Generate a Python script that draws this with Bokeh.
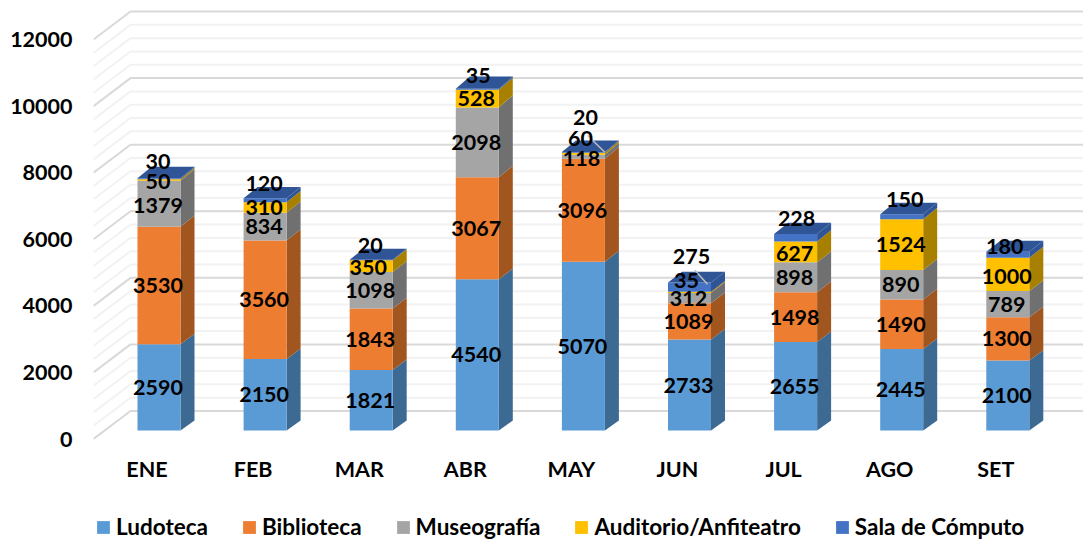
from bokeh.embed import file_html
from bokeh.resources import INLINE
from bokeh.core.properties import value
from bokeh.models import ColumnDataSource, FixedTicker, Legend, LegendItem, Range1d
from bokeh.plotting import figure

months = ["ENE", "FEB", "MAR", "ABR", "MAY", "JUN", "JUL", "AGO", "SET"]
ludoteca = [2590, 2150, 1821, 4540, 5070, 2733, 2655, 2445, 2100]
biblioteca = [3530, 3560, 1843, 3067, 3096, 1089, 1498, 1490, 1300]
museografia = [1379, 834, 1098, 2098, 118, 312, 898, 890, 789]
auditorio = [50, 310, 350, 528, 60, 35, 627, 1524, 1000]
sala = [30, 120, 20, 35, 20, 275, 228, 150, 180]
series_names = ["Ludoteca", "Biblioteca", "Museografía", "Auditorio/Anfiteatro", "Sala de Cómputo"]
y_ticks = [0, 2000, 4000, 6000, 8000, 10000, 12000]
grid_ticks = list(range(0, 12001, 400))

series = [ludoteca, biblioteca, museografia, auditorio, sala]
front = ["#5B9BD5", "#ED7D31", "#A5A5A5", "#FFC000", "#4472C4"]
side = ["#3D6A92", "#A1561F", "#707070", "#A88000", "#2F5597"]
top_col = "#2F5597"

# pixel-to-data geometry
PX_X = 106.1
PX_Y = 0.03329
FONT = "Lato"
FS = "21.5px"
X0_PAGE = 146.5
FRAME_L, FRAME_R, FRAME_T, FRAME_B = 93, 1083, 8, 540
ZERO_PAGE = 438.5
x_range = Range1d((FRAME_L - X0_PAGE) / PX_X, (FRAME_R - X0_PAGE) / PX_X)
y_range = Range1d((ZERO_PAGE - FRAME_B) / PX_Y, (ZERO_PAGE - FRAME_T) / PX_Y)

BAR_DX = 12 / PX_X          # bars sit right of the category tick
BAR_W = 43 / PX_X
BAR_BASE = 8.5 / PX_Y       # bars stand on the floor, above the front edge
DEPTH_X = 14 / PX_X
WALL_X = x_range.start + 37 / PX_X
WALL_DY = 28 / PX_Y


def depth_y(v):
    return (10 + 2 * v / 10000) / PX_Y


p = figure(width=1083, height=540, frame_width=FRAME_R - FRAME_L, frame_height=FRAME_B - FRAME_T,
           x_range=x_range, y_range=y_range, output_backend="svg", toolbar_location=None,
           min_border_left=93, min_border_top=8, min_border_right=0, min_border_bottom=0,
           outline_line_color=None, background_fill_color="white", border_fill_color="white")
p.grid.visible = False

# walls
for t in grid_ticks:
    major = t in y_ticks
    col = "#D9D9D9" if major else "#F2F2F2"
    p.line([x_range.start, WALL_X, x_range.end], [t, t + WALL_DY, t + WALL_DY], line_color=col, line_width=2)

# bars
renderers = []
xs = [i + BAR_DX for i in range(len(months))]
bottoms = [0.0] * len(months)
stack_tops = []
for k, vals in enumerate(series):
    tops = [b + v for b, v in zip(bottoms, vals)]
    src = ColumnDataSource(dict(
        x=xs,
        bottom=[b + BAR_BASE for b in bottoms],
        top=[t + BAR_BASE for t in tops]))
    side_x, side_y = [], []
    for x, b, t in zip(xs, bottoms, tops):
        r = x + BAR_W / 2
        side_x.append([r, r + DEPTH_X, r + DEPTH_X, r])
        side_y.append([b + BAR_BASE, b + BAR_BASE + depth_y(b), t + BAR_BASE + depth_y(t), t + BAR_BASE])
    p.patches(side_x, side_y, fill_color=side[k], line_color=None)
    r = p.vbar(x="x", bottom="bottom", top="top", width=BAR_W, fill_color=front[k], line_color=None, source=src)
    renderers.append(r)
    stack_tops.append(tops)
    bottoms = tops

# lids
lid_x, lid_y = [], []
for x, t in zip(xs, bottoms):
    l, r = x - BAR_W / 2, x + BAR_W / 2
    lid_x.append([l, r, r + DEPTH_X, l + DEPTH_X])
    y0 = t + BAR_BASE
    y1 = y0 + depth_y(t)
    lid_y.append([y0, y0, y1, y1])
p.patches(lid_x, lid_y, fill_color=top_col, line_color=None)

# label nudges (month index, series index) -> (dx px, dy px, downward positive)
nudges = {
    (0, 4): (0, -17), (0, 3): (0, 1.5), (0, 2): (0, 2),
    (1, 4): (0, -17),
    (2, 4): (0, -14.5), (2, 3): (-2, 1),
    (3, 4): (2, -14),
    (4, 4): (3, -35), (4, 3): (-2, -15), (4, 2): (-1, 2),
    (5, 4): (3, -31), (5, 3): (-2, -12),
    (6, 4): (2, -19), (6, 3): (0, 2),
    (7, 4): (4, -17),
    (8, 4): (-2, -8), (8, 3): (0, 2),
}
lx, ly, lt, ldx, ldy = [], [], [], [], []
for k, vals in enumerate(series):
    for i, v in enumerate(vals):
        dx, dy = nudges.get((i, k), (0, 0))
        lx.append(xs[i])
        ly.append(stack_tops[k][i] - v / 2 + BAR_BASE)
        lt.append(str(v))
        ldx.append(dx - 1)
        ldy.append(dy)

# leader lines of the crowded labels
for i, (x_a, y_a, x_b, y_b) in {4: (0.04, 500, 0.2, 0), 5: (0.05, 370, 0.17, -50)}.items():
    base = stack_tops[4][i] + BAR_BASE
    p.line([xs[i] + x_a, xs[i] + x_b], [base + y_a, base + y_b], line_color="#BFBFBF", line_width=1.5)

p.text(lx, ly, text=lt, x_offset=ldx, y_offset=ldy, text_font=value(FONT), text_font_style="bold",
       text_font_size=value(FS), text_align="center", text_baseline="middle", text_color="#000000")

# axes
ax = p.yaxis[0]
ax.ticker = FixedTicker(ticks=y_ticks)
ax.axis_line_color = None
ax.major_tick_line_color = None
ax.major_tick_out = 0
ax.major_tick_in = 0
ax.minor_tick_line_color = None
ax.major_label_standoff = 21
ax.major_label_text_font = FONT
ax.major_label_text_font_style = "bold"
ax.major_label_text_font_size = FS
ax.major_label_text_color = "#000000"

bx = p.xaxis[0]
bx.ticker = FixedTicker(ticks=list(range(len(months))))
bx.major_label_overrides = {i: m for i, m in enumerate(months)}
bx.axis_line_color = None
bx.major_tick_line_color = None
bx.major_tick_out = 0
bx.major_tick_in = 0
bx.minor_tick_line_color = None
bx.major_label_standoff = -85
bx.major_label_text_font = FONT
bx.major_label_text_font_style = "bold"
bx.major_label_text_font_size = FS
bx.major_label_text_color = "#000000"

legend = Legend(items=[LegendItem(label=n, renderers=[r]) for n, r in zip(series_names, renderers)],
                orientation="horizontal", location=(2, 0), glyph_width=16, glyph_height=16,
                label_standoff=5, spacing=33, padding=0, margin=0, border_line_color=None,
                background_fill_alpha=0, label_text_font=FONT, label_text_font_style="bold",
                label_text_font_size="22.5px", label_text_color="#000000")
p.add_layout(legend)

open("out.html", "w").write(file_html(p, INLINE))
